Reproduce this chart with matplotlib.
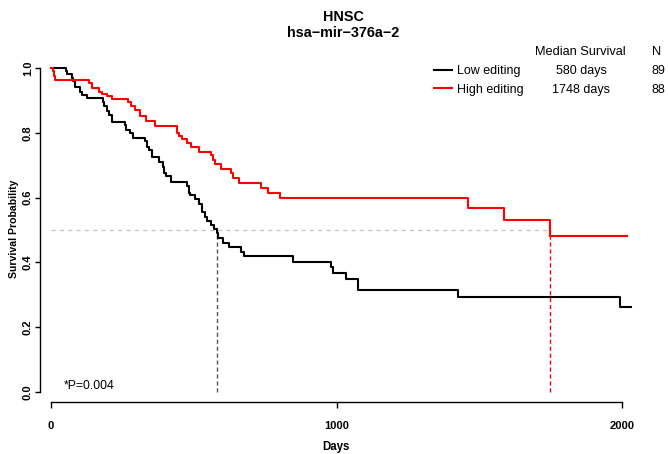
import matplotlib
matplotlib.use('Agg')
import matplotlib.pyplot as plt
from matplotlib.lines import Line2D

plt.rcParams['font.family'] = ['Liberation Sans', 'DejaVu Sans']

# ---------------- data ----------------
title_main = "HNSC"
title_sub = "hsa\u2212mir\u2212376a\u22122"
groups = ["Low editing", "High editing"]
group_colors = ["black", "red"]
medians = [580, 1748]
median_labels = ["580 days", "1748 days"]
n_values = [89, 88]
p_text = "*P=0.004"

low_t = [0, 52, 57, 72, 78, 84, 102, 108, 125, 181, 186, 195, 204, 213, 259, 263,
         277, 288, 329, 337, 343, 353, 379, 391, 396, 403, 419, 477, 483, 487, 504,
         520, 528, 539, 546, 560, 571, 580, 584, 601, 622, 667, 676, 848, 981, 988,
         1033, 1075, 1426, 1993, 2032]
low_s = [1.0, 0.989, 0.981, 0.968, 0.958, 0.940, 0.927, 0.917, 0.906, 0.896, 0.881,
         0.867, 0.855, 0.834, 0.823, 0.809, 0.798, 0.785, 0.773, 0.757, 0.747, 0.725,
         0.711, 0.695, 0.675, 0.665, 0.649, 0.636, 0.613, 0.608, 0.594, 0.580, 0.556,
         0.540, 0.526, 0.515, 0.503, 0.491, 0.476, 0.461, 0.447, 0.433, 0.418, 0.402,
         0.385, 0.368, 0.349, 0.315, 0.292, 0.261, 0.261]

high_t = [0, 6, 10, 14, 134, 143, 169, 178, 195, 213, 271, 279, 294, 312, 333, 364,
          442, 449, 460, 475, 489, 519, 560, 568, 574, 595, 630, 636, 660, 736, 759,
          802, 1460, 1587, 1748, 2017]
high_s = [1.0, 0.989, 0.976, 0.963, 0.953, 0.939, 0.927, 0.919, 0.913, 0.904, 0.894,
          0.881, 0.870, 0.853, 0.836, 0.822, 0.800, 0.790, 0.780, 0.768, 0.755, 0.741,
          0.731, 0.716, 0.704, 0.687, 0.675, 0.660, 0.646, 0.629, 0.613, 0.597, 0.567,
          0.532, 0.482, 0.482]

x_ticks = [0, 1000, 2000]
y_ticks = [0.0, 0.2, 0.4, 0.6, 0.8, 1.0]

# ---------------- layout ----------------
W, H = 668, 454
fig = plt.figure(figsize=(W / 100, H / 100), dpi=100)


def fx(px):
    return px / W


def fy(py):
    return 1 - py / H


ax = fig.add_axes([fx(40), fy(402), fx(640) - fx(40), fy(40) - fy(402)])
ax.set_xlim(-38.5, 2063)
ax.set_ylim(-0.031, 1.086)

# median guide lines
ax.plot([0, medians[1]], [0.5, 0.5], color='#c8c8c8', lw=1, ls=(0, (3, 3)), zorder=1)
ax.plot([medians[0], medians[0]], [0, 0.5], color='#555555', lw=1, ls=(0, (3, 2)), zorder=1)
ax.plot([medians[1], medians[1]], [0, 0.5], color='red', lw=1, ls=(0, (3, 2)), zorder=1)

# survival curves
ax.step(low_t, low_s, where='post', color=group_colors[0], lw=1.5, zorder=3)
ax.step(high_t, high_s, where='post', color=group_colors[1], lw=1.5, zorder=3)

# axes styling (R-like)
for s in ['top', 'right']:
    ax.spines[s].set_visible(False)
ax.spines['left'].set_bounds(0, 1)
ax.spines['bottom'].set_bounds(0, 2000)
ax.spines['left'].set_linewidth(1)
ax.spines['bottom'].set_linewidth(1)

ax.set_xticks(x_ticks)
ax.set_xticklabels([str(v) for v in x_ticks], fontweight='bold', fontsize=8)
ax.set_yticks(y_ticks)
ax.set_yticklabels(["%.1f" % v for v in y_ticks], fontweight='bold', fontsize=8,
                   rotation=90, va='center')
ax.tick_params(axis='x', length=4.5, width=1, pad=9)
ax.tick_params(axis='y', length=3.6, width=1, pad=1.5)

# axis labels
fig.text(fx(336), fy(450), "Days", ha='center', va='baseline', fontsize=8.3,
         fontweight='bold')
fig.text(fx(14), fy(229), "Survival Probability", ha='center', va='center',
         rotation=90, fontsize=7.6, fontweight='bold')

# titles
fig.text(fx(343), fy(21), title_main, ha='center', va='baseline', fontsize=10.4,
         fontweight='bold')
fig.text(fx(343), fy(37), title_sub, ha='center', va='baseline', fontsize=10.4,
         fontweight='bold')

# p-value
fig.text(fx(64), fy(389), p_text, ha='left', va='baseline', fontsize=8.8)

# legend table
fig.text(fx(580), fy(55), "Median Survival", ha='center', va='baseline', fontsize=9.2)
fig.text(fx(657), fy(55), "N", ha='center', va='baseline', fontsize=9.2)
row_line_y = [70, 88]
row_base_y = [74, 93]
for i in range(2):
    fig.add_artist(Line2D([fx(434), fx(452)], [fy(row_line_y[i]), fy(row_line_y[i])],
                          color=group_colors[i], lw=1.5))
    fig.text(fx(457), fy(row_base_y[i]), groups[i], ha='left', va='baseline', fontsize=9)
    fig.text(fx(581), fy(row_base_y[i]), median_labels[i], ha='center', va='baseline',
             fontsize=9)
    fig.text(fx(658), fy(row_base_y[i]), str(n_values[i]), ha='center', va='baseline',
             fontsize=9)

fig.savefig('out.png', dpi=100)
